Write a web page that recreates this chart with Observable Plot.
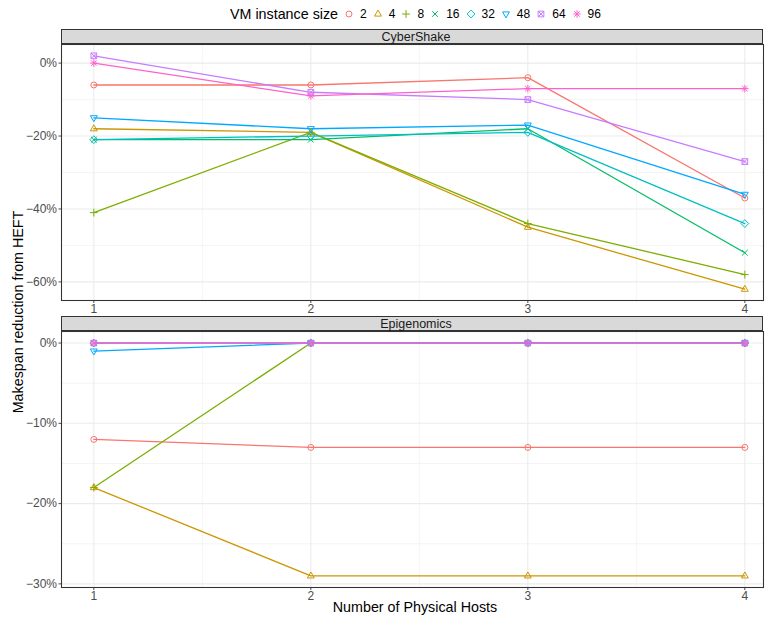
<!DOCTYPE html>
<html><head><meta charset="utf-8">
<script src="https://cdn.jsdelivr.net/npm/d3@7"></script>
<script src="https://cdn.jsdelivr.net/npm/@observablehq/plot@0.6"></script>
<style>
body{margin:0;background:#fff;font-family:"Liberation Sans",Arial,sans-serif;}
#wrap{position:relative;width:765px;height:617px;overflow:hidden;background:#fff;}
#wrap > svg{position:absolute;left:0;}
.strip{position:absolute;box-sizing:border-box;background:#D9D9D9;border:1.07px solid #333;color:#1A1A1A;font-size:12.5px;display:flex;align-items:center;justify-content:center;padding-left:8px;z-index:2;}
.title{position:absolute;color:#000;font-size:14.3px;white-space:nowrap;}
#legend{position:absolute;left:230px;top:5px;height:18px;display:flex;align-items:center;font-size:12px;color:#000;}
#legend .lt{font-size:14.3px;margin-right:4px;}
#legend .it{display:flex;align-items:center;margin-right:4px;}
#legend .it span{margin-left:4px;}
</style></head><body><div id="wrap"></div>
<script>
// ---- data ----
const sizes = ["2","4","8","16","32","48","64","96"];
const colors = ["#F8766D","#CD9600","#7CAE00","#00BE67","#00BFC4","#00A9FF","#C77CFF","#FF61CC"];
const hosts = [1,2,3,4];
const cyberShake = [
  [-6,-6,-4,-37],
  [-18,-19,-45,-62],
  [-41,-19,-44,-58],
  [-21,-21,-18,-52],
  [-21,-20,-19,-44],
  [-15,-18,-17,-36],
  [2,-8,-10,-27],
  [0,-9,-7,-7]
];
const epigenomics = [
  [-12,-13,-13,-13],
  [-18,-29,-29,-29],
  [-18,0,0,0],
  [0,0,0,0],
  [0,0,0,0],
  [-1,0,0,0],
  [0,0,0,0],
  [0,0,0,0]
];
const cyberTicks = [0,-20,-40,-60];
const cyberMinor = [-10,-30,-50];
const epiTicks = [0,-10,-20,-30];
const epiMinor = [-5,-15,-25];
const xMinor = [1.5,2.5,3.5];

// ---- ggplot-like symbols ----
const mk = f => ({draw(ctx, size){ const s = Math.sqrt(size/Math.PI); f(ctx, s); }});
const symbolTypes = [
  mk((c,s)=>{c.moveTo(s,0); c.arc(0,0,s,0,2*Math.PI);}),
  mk((c,s)=>{c.moveTo(0,-1.3*s); c.lineTo(1.15*s,0.7*s); c.lineTo(-1.15*s,0.7*s); c.closePath();}),
  mk((c,s)=>{c.moveTo(-1.3*s,0); c.lineTo(1.3*s,0); c.moveTo(0,-1.3*s); c.lineTo(0,1.3*s);}),
  mk((c,s)=>{const a=0.95*s; c.moveTo(-a,-a); c.lineTo(a,a); c.moveTo(-a,a); c.lineTo(a,-a);}),
  mk((c,s)=>{const a=1.3*s; c.moveTo(0,-a); c.lineTo(a,0); c.lineTo(0,a); c.lineTo(-a,0); c.closePath();}),
  mk((c,s)=>{c.moveTo(0,1.3*s); c.lineTo(1.15*s,-0.7*s); c.lineTo(-1.15*s,-0.7*s); c.closePath();}),
  mk((c,s)=>{const a=0.95*s; c.moveTo(-a,-a); c.lineTo(a,-a); c.lineTo(a,a); c.lineTo(-a,a); c.closePath(); c.moveTo(-a,-a); c.lineTo(a,a); c.moveTo(-a,a); c.lineTo(a,-a);}),
  mk((c,s)=>{const a=1.25*s, b=0.9*s; c.moveTo(-a,0); c.lineTo(a,0); c.moveTo(0,-a); c.lineTo(0,a); c.moveTo(-b,-b); c.lineTo(b,b); c.moveTo(-b,b); c.lineTo(b,-b);})
];

const pct = d => d === 0 ? "0%" : (d < 0 ? "\u2212" : "") + Math.abs(d) + "%";

function panel({values, yDomain, yTicks, yMinor, height, marginBottom}) {
  const rows = sizes.flatMap((s,i)=>hosts.map((h,j)=>({size:s, hosts:h, value: values[i][j]})));
  const series = sizes.map(s => rows.filter(d => d.size === s));
  return Plot.plot({
    width: 765, height, marginTop: 16, marginBottom, marginLeft: 61, marginRight: 2,
    style: {fontFamily: '"Liberation Sans", Arial, sans-serif', fontSize: "12px", color: "#4D4D4D", background: "white", overflow: "visible"},
    x: {domain: [0.851, 4.086], ticks: hosts, tickSize: 3, tickPadding: 1, tickFormat: d => String(d), label: null},
    y: {domain: yDomain, ticks: yTicks, tickSize: 2.5, tickPadding: 2, tickFormat: pct, label: null},
    color: {domain: sizes, range: colors},
    marks: [
      Plot.ruleY(yMinor, {stroke: "#EBEBEB", strokeWidth: 0.55}),
      Plot.ruleX(xMinor, {stroke: "#EBEBEB", strokeWidth: 0.55}),
      Plot.ruleY(yTicks, {stroke: "#EBEBEB", strokeWidth: 1.07}),
      Plot.ruleX(hosts, {stroke: "#EBEBEB", strokeWidth: 1.07}),
      ...series.map(data => Plot.line(data, {x: "hosts", y: "value", stroke: "size", strokeWidth: 1.3})),
      ...series.map((data,i) => Plot.dot(data, {x: "hosts", y: "value", stroke: "size", symbol: symbolTypes[i], r: 3, fill: "none", strokeWidth: 1})),
      Plot.frame({stroke: "#333333", strokeWidth: 1.07})
    ]
  });
}

const wrap = document.getElementById("wrap");
const top1 = panel({values: cyberShake, yDomain: [-65.1, 5.1], yTicks: cyberTicks, yMinor: cyberMinor, height: 286, marginBottom: 14});
top1.style.top = "28px";
wrap.appendChild(top1);
const bot = panel({values: epigenomics, yDomain: [-30.45, 1.44], yTicks: epiTicks, yMinor: epiMinor, height: 302, marginBottom: 30});
bot.style.top = "315px";
wrap.appendChild(bot);

function strip(text, top) {
  const d = document.createElement("div");
  d.className = "strip";
  d.style.left = "61px"; d.style.top = top + "px"; d.style.width = "702px"; d.style.height = "15px";
  d.textContent = text;
  wrap.appendChild(d);
}
strip("CyberShake", 29);
strip("Epigenomics", 316);

const yt = document.createElement("div");
yt.className = "title";
yt.style.left = "18px"; yt.style.top = "312px";
yt.style.transform = "translate(-50%,-50%) rotate(-90deg)";
yt.textContent = "Makespan reduction from HEFT";
wrap.appendChild(yt);

const xt = document.createElement("div");
xt.className = "title";
xt.style.left = "415px"; xt.style.top = "607px";
xt.style.transform = "translate(-50%,-50%)";
xt.textContent = "Number of Physical Hosts";
wrap.appendChild(xt);

// legend
const lg = document.createElement("div");
lg.id = "legend";
const lt = document.createElement("div");
lt.className = "lt"; lt.textContent = "VM instance size";
lg.appendChild(lt);
sizes.forEach((s,i) => {
  const it = document.createElement("div");
  it.className = "it";
  const path = d3.symbol().type(symbolTypes[i]).size(Math.PI * 9)();
  it.innerHTML = `<svg width="14" height="14" viewBox="-7 -7 14 14"><path d="${path}" fill="none" stroke="${colors[i]}" stroke-width="1"/></svg><span>${s}</span>`;
  lg.appendChild(it);
});
wrap.appendChild(lg);
</script>
</body></html>
